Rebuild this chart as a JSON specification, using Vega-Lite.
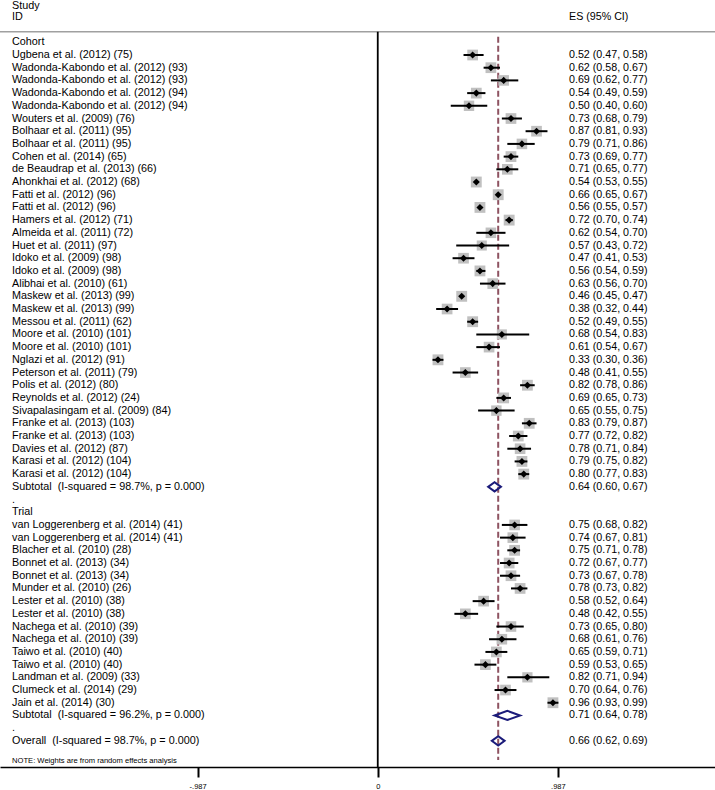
{
  "$schema": "https://vega.github.io/schema/vega-lite/v6.json",
  "width": 715,
  "height": 767,
  "autosize": {"type": "none"},
  "padding": {"left": 0, "top": 0, "right": 0, "bottom": 23},
  "background": "white",
  "config": {
    "view": {"stroke": null},
    "font": "Liberation Sans",
    "text": {"font": "Liberation Sans", "color": "#000000"}
  },
  "datasets": {
    "rows": [
      {"row": -1.89, "study": "Study", "kind": "header"},
      {"row": -0.96, "study": "ID", "estext": "ES (95% CI)", "kind": "header"},
      {"row": 1, "study": "Cohort", "kind": "group"},
      {"row": 2, "study": "Ugbena et al. (2012) (75)", "es": 0.52, "lo": 0.47, "hi": 0.58, "w": 1.75, "estext": "0.52 (0.47, 0.58)", "kind": "study"},
      {"row": 3, "study": "Wadonda-Kabondo et al. (2012) (93)", "es": 0.62, "lo": 0.58, "hi": 0.67, "w": 1.77, "estext": "0.62 (0.58, 0.67)", "kind": "study"},
      {"row": 4, "study": "Wadonda-Kabondo et al. (2012) (93)", "es": 0.69, "lo": 0.62, "hi": 0.77, "w": 1.71, "estext": "0.69 (0.62, 0.77)", "kind": "study"},
      {"row": 5, "study": "Wadonda-Kabondo et al. (2012) (94)", "es": 0.54, "lo": 0.49, "hi": 0.59, "w": 1.76, "estext": "0.54 (0.49, 0.59)", "kind": "study"},
      {"row": 6, "study": "Wadonda-Kabondo et al. (2012) (94)", "es": 0.50, "lo": 0.40, "hi": 0.60, "w": 1.65, "estext": "0.50 (0.40, 0.60)", "kind": "study"},
      {"row": 7, "study": "Wouters et al. (2009) (76)", "es": 0.73, "lo": 0.68, "hi": 0.79, "w": 1.75, "estext": "0.73 (0.68, 0.79)", "kind": "study"},
      {"row": 8, "study": "Bolhaar et al. (2011) (95)", "es": 0.87, "lo": 0.81, "hi": 0.93, "w": 1.74, "estext": "0.87 (0.81, 0.93)", "kind": "study"},
      {"row": 9, "study": "Bolhaar et al. (2011) (95)", "es": 0.79, "lo": 0.71, "hi": 0.86, "w": 1.70, "estext": "0.79 (0.71, 0.86)", "kind": "study"},
      {"row": 10, "study": "Cohen et al. (2014) (65)", "es": 0.73, "lo": 0.69, "hi": 0.77, "w": 1.78, "estext": "0.73 (0.69, 0.77)", "kind": "study"},
      {"row": 11, "study": "de Beaudrap et al. (2013) (66)", "es": 0.71, "lo": 0.65, "hi": 0.77, "w": 1.74, "estext": "0.71 (0.65, 0.77)", "kind": "study"},
      {"row": 12, "study": "Ahonkhai et al. (2012) (68)", "es": 0.54, "lo": 0.53, "hi": 0.55, "w": 1.80, "estext": "0.54 (0.53, 0.55)", "kind": "study"},
      {"row": 13, "study": "Fatti et al. (2012) (96)", "es": 0.66, "lo": 0.65, "hi": 0.67, "w": 1.80, "estext": "0.66 (0.65, 0.67)", "kind": "study"},
      {"row": 14, "study": "Fatti et al. (2012) (96)", "es": 0.56, "lo": 0.55, "hi": 0.57, "w": 1.80, "estext": "0.56 (0.55, 0.57)", "kind": "study"},
      {"row": 15, "study": "Hamers et al. (2012) (71)", "es": 0.72, "lo": 0.70, "hi": 0.74, "w": 1.80, "estext": "0.72 (0.70, 0.74)", "kind": "study"},
      {"row": 16, "study": "Almeida et al. (2011) (72)", "es": 0.62, "lo": 0.54, "hi": 0.70, "w": 1.70, "estext": "0.62 (0.54, 0.70)", "kind": "study"},
      {"row": 17, "study": "Huet et al. (2011) (97)", "es": 0.57, "lo": 0.43, "hi": 0.72, "w": 1.55, "estext": "0.57 (0.43, 0.72)", "kind": "study"},
      {"row": 18, "study": "Idoko et al. (2009) (98)", "es": 0.47, "lo": 0.41, "hi": 0.53, "w": 1.74, "estext": "0.47 (0.41, 0.53)", "kind": "study"},
      {"row": 19, "study": "Idoko et al. (2009) (98)", "es": 0.56, "lo": 0.54, "hi": 0.59, "w": 1.79, "estext": "0.56 (0.54, 0.59)", "kind": "study"},
      {"row": 20, "study": "Alibhai et al. (2010) (61)", "es": 0.63, "lo": 0.56, "hi": 0.70, "w": 1.72, "estext": "0.63 (0.56, 0.70)", "kind": "study"},
      {"row": 21, "study": "Maskew et al. (2013) (99)", "es": 0.46, "lo": 0.45, "hi": 0.47, "w": 1.80, "estext": "0.46 (0.45, 0.47)", "kind": "study"},
      {"row": 22, "study": "Maskew et al. (2013) (99)", "es": 0.38, "lo": 0.32, "hi": 0.44, "w": 1.74, "estext": "0.38 (0.32, 0.44)", "kind": "study"},
      {"row": 23, "study": "Messou et al. (2011) (62)", "es": 0.52, "lo": 0.49, "hi": 0.55, "w": 1.79, "estext": "0.52 (0.49, 0.55)", "kind": "study"},
      {"row": 24, "study": "Moore et al. (2010) (101)", "es": 0.68, "lo": 0.54, "hi": 0.83, "w": 1.55, "estext": "0.68 (0.54, 0.83)", "kind": "study"},
      {"row": 25, "study": "Moore et al. (2010) (101)", "es": 0.61, "lo": 0.54, "hi": 0.67, "w": 1.73, "estext": "0.61 (0.54, 0.67)", "kind": "study"},
      {"row": 26, "study": "Nglazi et al. (2012) (91)", "es": 0.33, "lo": 0.30, "hi": 0.36, "w": 1.79, "estext": "0.33 (0.30, 0.36)", "kind": "study"},
      {"row": 27, "study": "Peterson et al. (2011) (79)", "es": 0.48, "lo": 0.41, "hi": 0.55, "w": 1.72, "estext": "0.48 (0.41, 0.55)", "kind": "study"},
      {"row": 28, "study": "Polis et al. (2012) (80)", "es": 0.82, "lo": 0.78, "hi": 0.86, "w": 1.78, "estext": "0.82 (0.78, 0.86)", "kind": "study"},
      {"row": 29, "study": "Reynolds et al. (2012) (24)", "es": 0.69, "lo": 0.65, "hi": 0.73, "w": 1.78, "estext": "0.69 (0.65, 0.73)", "kind": "study"},
      {"row": 30, "study": "Sivapalasingam et al. (2009) (84)", "es": 0.65, "lo": 0.55, "hi": 0.75, "w": 1.65, "estext": "0.65 (0.55, 0.75)", "kind": "study"},
      {"row": 31, "study": "Franke et al. (2013) (103)", "es": 0.83, "lo": 0.79, "hi": 0.87, "w": 1.78, "estext": "0.83 (0.79, 0.87)", "kind": "study"},
      {"row": 32, "study": "Franke et al. (2013) (103)", "es": 0.77, "lo": 0.72, "hi": 0.82, "w": 1.76, "estext": "0.77 (0.72, 0.82)", "kind": "study"},
      {"row": 33, "study": "Davies et al. (2012) (87)", "es": 0.78, "lo": 0.71, "hi": 0.84, "w": 1.72, "estext": "0.78 (0.71, 0.84)", "kind": "study"},
      {"row": 34, "study": "Karasi et al. (2012) (104)", "es": 0.79, "lo": 0.75, "hi": 0.82, "w": 1.78, "estext": "0.79 (0.75, 0.82)", "kind": "study"},
      {"row": 35, "study": "Karasi et al. (2012) (104)", "es": 0.80, "lo": 0.77, "hi": 0.83, "w": 1.79, "estext": "0.80 (0.77, 0.83)", "kind": "study"},
      {"row": 36, "study": "Subtotal \u00a0(I-squared = 98.7%, p = 0.000)", "es": 0.64, "lo": 0.60, "hi": 0.67, "estext": "0.64 (0.60, 0.67)", "kind": "subtotal"},
      {"row": 37, "study": ".", "kind": "blank"},
      {"row": 38, "study": "Trial", "kind": "group"},
      {"row": 39, "study": "van Loggerenberg et al. (2014) (41)", "es": 0.75, "lo": 0.68, "hi": 0.82, "w": 1.72, "estext": "0.75 (0.68, 0.82)", "kind": "study"},
      {"row": 40, "study": "van Loggerenberg et al. (2014) (41)", "es": 0.74, "lo": 0.67, "hi": 0.81, "w": 1.72, "estext": "0.74 (0.67, 0.81)", "kind": "study"},
      {"row": 41, "study": "Blacher et al. (2010) (28)", "es": 0.75, "lo": 0.71, "hi": 0.78, "w": 1.78, "estext": "0.75 (0.71, 0.78)", "kind": "study"},
      {"row": 42, "study": "Bonnet et al. (2013) (34)", "es": 0.72, "lo": 0.67, "hi": 0.77, "w": 1.76, "estext": "0.72 (0.67, 0.77)", "kind": "study"},
      {"row": 43, "study": "Bonnet et al. (2013) (34)", "es": 0.73, "lo": 0.67, "hi": 0.78, "w": 1.75, "estext": "0.73 (0.67, 0.78)", "kind": "study"},
      {"row": 44, "study": "Munder et al. (2010) (26)", "es": 0.78, "lo": 0.73, "hi": 0.82, "w": 1.76, "estext": "0.78 (0.73, 0.82)", "kind": "study"},
      {"row": 45, "study": "Lester et al. (2010) (38)", "es": 0.58, "lo": 0.52, "hi": 0.64, "w": 1.74, "estext": "0.58 (0.52, 0.64)", "kind": "study"},
      {"row": 46, "study": "Lester et al. (2010) (38)", "es": 0.48, "lo": 0.42, "hi": 0.55, "w": 1.73, "estext": "0.48 (0.42, 0.55)", "kind": "study"},
      {"row": 47, "study": "Nachega et al. (2010) (39)", "es": 0.73, "lo": 0.65, "hi": 0.80, "w": 1.70, "estext": "0.73 (0.65, 0.80)", "kind": "study"},
      {"row": 48, "study": "Nachega et al. (2010) (39)", "es": 0.68, "lo": 0.61, "hi": 0.76, "w": 1.71, "estext": "0.68 (0.61, 0.76)", "kind": "study"},
      {"row": 49, "study": "Taiwo et al. (2010) (40)", "es": 0.65, "lo": 0.59, "hi": 0.71, "w": 1.74, "estext": "0.65 (0.59, 0.71)", "kind": "study"},
      {"row": 50, "study": "Taiwo et al. (2010) (40)", "es": 0.59, "lo": 0.53, "hi": 0.65, "w": 1.74, "estext": "0.59 (0.53, 0.65)", "kind": "study"},
      {"row": 51, "study": "Landman et al. (2009) (33)", "es": 0.82, "lo": 0.71, "hi": 0.94, "w": 1.60, "estext": "0.82 (0.71, 0.94)", "kind": "study"},
      {"row": 52, "study": "Clumeck et al. (2014) (29)", "es": 0.70, "lo": 0.64, "hi": 0.76, "w": 1.74, "estext": "0.70 (0.64, 0.76)", "kind": "study"},
      {"row": 53, "study": "Jain et al. (2014) (30)", "es": 0.96, "lo": 0.93, "hi": 0.99, "w": 1.79, "estext": "0.96 (0.93, 0.99)", "kind": "study"},
      {"row": 54, "study": "Subtotal \u00a0(I-squared = 96.2%, p = 0.000)", "es": 0.71, "lo": 0.64, "hi": 0.78, "estext": "0.71 (0.64, 0.78)", "kind": "subtotal2"},
      {"row": 55, "study": ".", "kind": "blank"},
      {"row": 56, "study": "Overall \u00a0(I-squared = 98.7%, p = 0.000)", "es": 0.66, "lo": 0.62, "hi": 0.69, "estext": "0.66 (0.62, 0.69)", "kind": "overall"},
      {"row": 57.55, "study": "NOTE: Weights are from random effects analysis", "kind": "note"}
    ]
  },
  "data": {"name": "rows"},
  "encoding": {
    "y": {
      "field": "row",
      "type": "quantitative",
      "scale": {"domain": [-2.331, 58.06], "reverse": true, "nice": false, "zero": false},
      "axis": null
    }
  },
  "layer": [
    {
      "data": {"values": [{"r": 0.165}]},
      "mark": {"type": "rule", "color": "#a0a0a0", "strokeWidth": 1.5},
      "encoding": {"y": {"field": "r", "type": "quantitative"}}
    },
    {
      "data": {"values": [{"x": 0, "r1": 0.165, "r2": 58.06}]},
      "mark": {"type": "rule", "color": "#000000", "strokeWidth": 1.8},
      "encoding": {
        "x": {
          "field": "x",
          "type": "quantitative",
          "scale": {"domain": [-2.070, 1.848], "nice": false, "zero": false, "padding": 0},
          "axis": {
            "values": [-0.987, 0, 0.987],
            "labelExpr": "datum.value == 0 ? '0' : ((datum.value < 0 ? '-' : '') + replace(format(abs(datum.value), '.3f'), '0.', '.'))",
            "title": null,
            "grid": false,
            "domainColor": "#000000",
            "domainWidth": 1.6,
            "tickColor": "#000000",
            "tickWidth": 2,
            "tickSize": 10,
            "labelFont": "Liberation Sans",
            "labelFontSize": 7.5,
            "labelColor": "#000000",
            "labelPadding": 5,
            "labelFlush": false
          }
        },
        "y": {"field": "r1", "type": "quantitative"},
        "y2": {"field": "r2"}
      }
    },
    {
      "transform": [{"filter": "datum.kind == 'overall'"}, {"calculate": "0.56", "as": "r1"}, {"calculate": "57.5", "as": "r2"}],
      "mark": {"type": "rule", "color": "#8e5361", "strokeWidth": 2, "strokeDash": [6, 3]},
      "encoding": {
        "x": {"field": "es", "type": "quantitative"},
        "y": {"field": "r1", "type": "quantitative"},
        "y2": {"field": "r2"}
      }
    },
    {
      "transform": [{"filter": "datum.kind == 'study'"}],
      "mark": {"type": "point", "shape": "square", "filled": true, "color": "#c0c0c0", "opacity": 1},
      "encoding": {
        "x": {"field": "es", "type": "quantitative"},
        "size": {"field": "w", "type": "quantitative", "scale": {"domain": [0, 1.8], "range": [0, 118]}, "legend": null}
      }
    },
    {
      "transform": [{"filter": "datum.kind == 'study'"}],
      "mark": {"type": "rule", "color": "#000000", "strokeWidth": 2},
      "encoding": {
        "x": {"field": "lo", "type": "quantitative"},
        "x2": {"field": "hi"}
      }
    },
    {
      "transform": [{"filter": "datum.kind == 'study'"}],
      "mark": {"type": "point", "shape": "diamond", "filled": true, "color": "#000000", "size": 50, "opacity": 1},
      "encoding": {
        "x": {"field": "es", "type": "quantitative"}
      }
    },
    {
      "transform": [{"filter": "datum.kind == 'subtotal' || datum.kind == 'overall'"}],
      "mark": {"type": "point", "shape": "M-1,0L0,-0.72L1,0L0,0.72Z", "filled": false, "stroke": "#1b1b7a", "strokeWidth": 2, "size": 164, "opacity": 1},
      "encoding": {
        "x": {"field": "es", "type": "quantitative"}
      }
    },
    {
      "transform": [{"filter": "datum.kind == 'subtotal2'"}],
      "mark": {"type": "point", "shape": "M-1,0L0,-0.36L1,0L0,0.36Z", "filled": false, "stroke": "#1b1b7a", "strokeWidth": 2, "size": 655, "opacity": 1},
      "encoding": {
        "x": {"field": "es", "type": "quantitative"}
      }
    },
    {
      "transform": [{"filter": "datum.kind != 'note'"}],
      "mark": {"type": "text", "align": "left", "baseline": "middle", "fontSize": 10.8, "font": "Liberation Sans", "color": "#000000"},
      "encoding": {
        "x": {"datum": -2.004},
        "text": {"field": "study"}
      }
    },
    {
      "transform": [{"filter": "isValid(datum.estext)"}],
      "mark": {"type": "text", "align": "left", "baseline": "middle", "fontSize": 10.7, "font": "Liberation Sans", "color": "#000000"},
      "encoding": {
        "x": {"datum": 1.048},
        "text": {"field": "estext"}
      }
    },
    {
      "transform": [{"filter": "datum.kind == 'note'"}],
      "mark": {"type": "text", "align": "left", "baseline": "middle", "fontSize": 7.6, "font": "Liberation Sans", "color": "#000000"},
      "encoding": {
        "x": {"datum": -2.004},
        "text": {"field": "study"}
      }
    }
  ]
}
